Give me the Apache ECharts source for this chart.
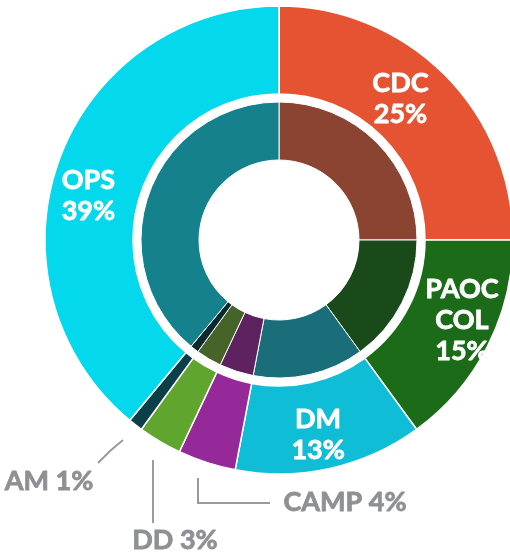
<!DOCTYPE html>
<html lang="en">
  <head>
    <meta charset="UTF-8" />
    <title>Nested donut</title>
    <script src="https://cdn.jsdelivr.net/npm/echarts@6/dist/echarts.min.js"></script>
    <style>
      html, body { margin: 0; padding: 0; background: #fff; }
    </style>
  </head>
  <body>
    <div id="main" style="width: 510px; height: 554px"></div>
    <script>
      var names = ['CDC', 'PAOC\nCOL', 'DM', 'CAMP', 'DD', 'AM', 'OPS'];
      var values = [25, 15, 13, 4, 3, 1, 39];
      var outerColors = ['#e65332', '#1b6b18', '#10bdd6', '#95299a', '#5fa52e', '#0b4048', '#03d8ed'];
      var innerColors = ['#8b4332', '#1a4a1a', '#1a6e7a', '#5e2260', '#46632a', '#0b2a2e', '#14818c'];

      // small slices get their labels outside, with a leader line
      var outsideLabels = {
        3: { x: 345, y: 502, line: [[198, 478], [198, 503], [270, 503]] },
        4: { x: 175, y: 540, line: [[153, 460], [153, 492], [153, 523]] },
        5: { x: 49, y: 481, line: [[123, 440], [110, 451], [98, 463]] }
      };
      // nudges for the big labels
      var insideOffsets = { 0: [-15, -5], 1: [11, -7], 2: [-3, 6], 6: [-9, 21] };

      var mCharts = echarts.init(document.getElementById('main'));

      var outerData = values.map(function (v, i) {
        var item = { name: names[i], value: v, itemStyle: { color: outerColors[i] } };
        if (outsideLabels[i]) {
          item.label = {
            position: 'outside',
            color: '#8f9093',
            textBorderColor: '#8f9093',
            fontSize: 27,
            formatter: '{b} {c}%'
          };
          item.labelLine = { show: true };
        } else {
          item.label = { position: 'inside', offset: insideOffsets[i] };
        }
        return item;
      });

      var innerData = values.map(function (v, i) {
        return { name: names[i], value: v, itemStyle: { color: innerColors[i] } };
      });

      var option = {
        animation: false,
        series: [
          {
            type: 'pie',
            center: [279, 240],
            radius: [80, 138],
            startAngle: 90,
            clockwise: true,
            silent: true,
            label: { show: false },
            labelLine: { show: false },
            itemStyle: { borderColor: '#ffffff', borderWidth: 1 },
            data: innerData
          },
          {
            type: 'pie',
            center: [279, 240],
            radius: [146, 234],
            startAngle: 90,
            clockwise: true,
            silent: true,
            itemStyle: { borderColor: '#ffffff', borderWidth: 1.5 },
            label: {
              show: true,
              color: '#ffffff',
              fontFamily: 'Lato',
              fontWeight: 'bold',
              fontSize: 27,
              lineHeight: 31,
              overflow: 'none',
              // a thin outline in the text colour makes it a bit heavier
              textBorderColor: '#ffffff',
              textBorderWidth: 0.8,
              formatter: '{b}\n{c}%'
            },
            labelLine: {
              lineStyle: { color: '#9a9a9a', width: 2 }
            },
            labelLayout: function (params) {
              var p = outsideLabels[params.dataIndex];
              if (!p) return;
              return {
                x: p.x,
                y: p.y,
                align: 'center',
                verticalAlign: 'middle',
                labelLinePoints: p.line
              };
            },
            data: outerData
          }
        ]
      };

      mCharts.setOption(option);
    </script>
  </body>
</html>
